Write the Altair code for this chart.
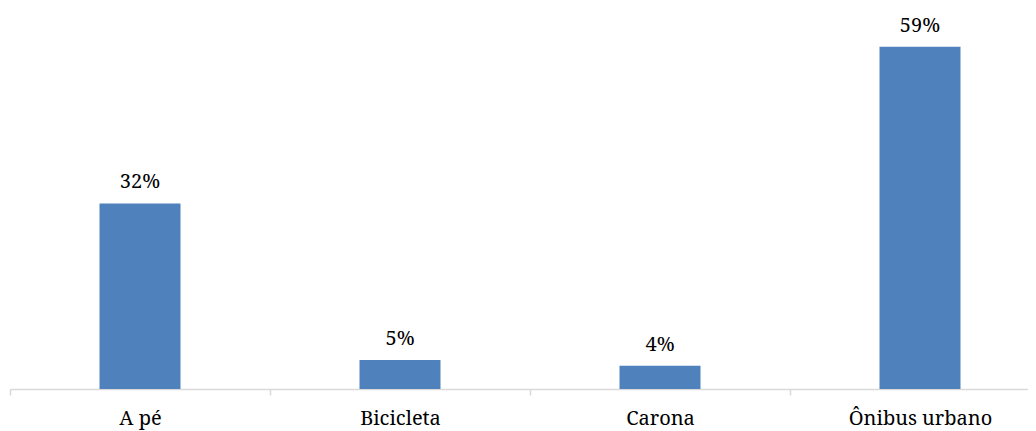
import altair as alt
import pandas as pd

categories = ["A pé", "Bicicleta", "Carona", "Ônibus urbano"]
values = [0.32, 0.05, 0.04, 0.59]

df = pd.DataFrame({"modo": categories, "valor": values})

FONT = "'Noto Serif', 'DejaVu Serif', serif"
SIZE = 20

x = alt.X(
    "modo:N",
    sort=categories,
    scale=alt.Scale(paddingInner=0, paddingOuter=0, range=[0, 1040]),
    axis=alt.Axis(
        title=None,
        labelAngle=0,
        labelFont=FONT,
        labelFontSize=SIZE,
        labelColor="#000000",
        labelBaseline="alphabetic",
        labelPadding=29,
        tickBand="extent",
        tickSize=6,
        tickColor="#D9D9D9",
        tickWidth=1.5,
        domainColor="#D9D9D9",
        domainWidth=1.5,
    ),
)
y = alt.Y(
    "valor:Q",
    scale=alt.Scale(domain=[0, 0.657], nice=False, zero=True),
    axis=None,
)

bars = alt.Chart(df).mark_bar(width=81, color="#4F81BD").encode(x=x, y=y)
labels = alt.Chart(df).mark_text(
    font=FONT, fontSize=SIZE, color="#000000", baseline="alphabetic", dy=-15
).encode(x=x, y=y, text=alt.Text("valor:Q", format=".0%"))

chart = (
    alt.layer(bars, labels)
    .properties(
        width=1018,
        height=381,
        padding={"left": 2, "top": 0, "right": 0, "bottom": 42},
        autosize=alt.AutoSizeParams(type="none"),
        background="#FFFFFF",
    )
    .configure_view(strokeWidth=0, stroke="transparent")
)

chart.save("out.html", embed_options={"renderer": "svg", "actions": False})
